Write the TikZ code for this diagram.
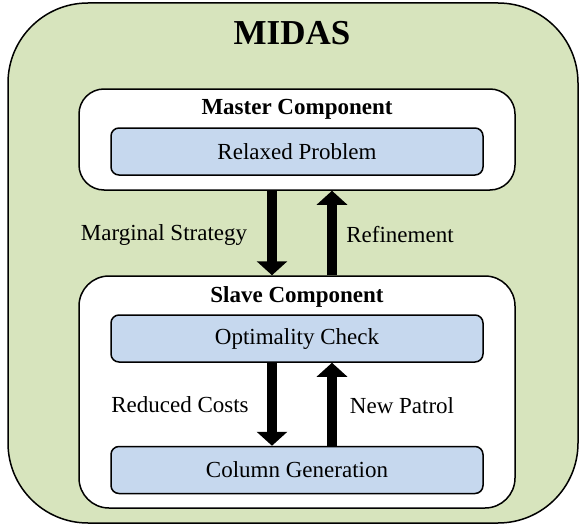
\documentclass[tikz,border=0pt]{standalone}
\usepackage{fontspec}
\setmainfont{Liberation Serif}
\usepackage{tikz}
\usetikzlibrary{positioning}
\usetikzlibrary{arrows.meta}
\usepackage{xcolor}
\definecolor{midasgreen}{HTML}{D7E4BD}
\definecolor{stepblue}{HTML}{C6D8EE}

\begin{document}
\begin{tikzpicture}[x=1pt, y=-1pt,
        every node/.style = {font=\fontsize{23}{26}\selectfont},
        outer/.style = {draw, line width=1.5pt, fill=midasgreen, rounded corners=80pt, minimum width=570pt, minimum height=520pt},
        component/.style = {draw, line width=1.5pt, fill=white, minimum width=436pt},
        stepbox/.style = {draw, line width=1.5pt, fill=stepblue, rounded corners=8pt, minimum width=372pt, minimum height=47pt},
        flow/.style = {line width=10pt, -{Triangle[width=30pt, length=14pt]}}
        ]
        \useasboundingbox (0,0) rectangle (581,527);
        \node (midas) [outer] at (293,263) {};
        \node (title) at (292,33) {\fontsize{35}{40}\selectfont\bfseries MIDAS};
        \node (master) [component, rounded corners=25pt, minimum height=101pt] at (297,139.5) {};
        \node (mastertitle) at (297,109) {\bfseries Master Component};
        \node (relaxed) [stepbox] at (297,151.5) {Relaxed Problem};
        \node (slave) [component, rounded corners=30pt, minimum height=232pt] at (297,392) {};
        \node (slavetitle) at (297,297) {\bfseries Slave Component};
        \node (optimality) [stepbox] at (297,338.5) {Optimality Check};
        \node (colgen) [stepbox] at (297,470) {Column Generation};
        \draw[flow] ([xshift=-25pt]master.south) -- ([xshift=-25pt]slave.north);
        \draw[flow] ([xshift=35pt]slave.north) -- ([xshift=35pt]master.south);
        \draw[flow] ([xshift=-25pt]optimality.south) -- ([xshift=-25pt]colgen.north);
        \draw[flow] ([xshift=35pt]colgen.north) -- ([xshift=35pt]optimality.south);
        \node (marginal) at (164,235) {Marginal Strategy};
        \node (refine) at (400,235) {Refinement};
        \node (reduced) at (180,405) {Reduced Costs};
        \node (patrol) at (402,406) {New Patrol};
        \end{tikzpicture}
\end{document}
